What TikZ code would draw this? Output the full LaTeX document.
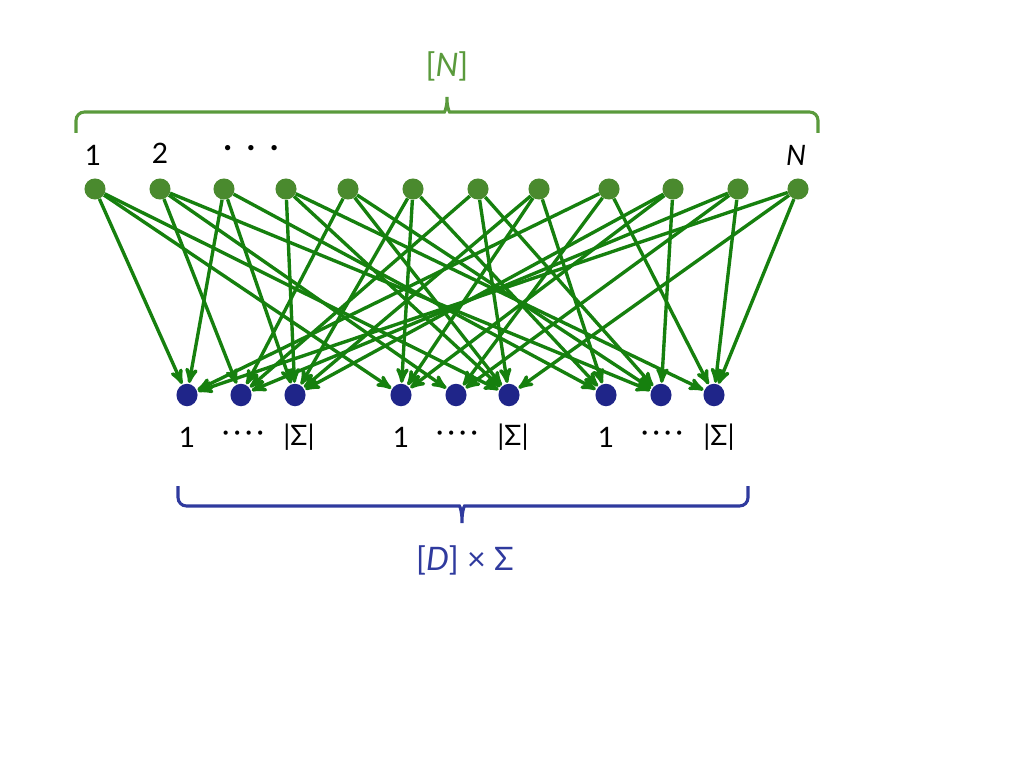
\documentclass[tikz,border=0pt]{standalone}
\usepackage{fontspec}
\setmainfont{Lato}
\usepackage{tikz}
\usetikzlibrary{arrows,shapes.geometric}
\definecolor{topgreen}{HTML}{4A8A2E}
\definecolor{edgegreen}{HTML}{16800E}
\definecolor{dotblue}{HTML}{1F2589}
\definecolor{bracegreen}{HTML}{5A9A3C}
\definecolor{braceblue}{HTML}{2F3A9E}

\begin{document}
\begin{tikzpicture}[x=0.025cm, y=-0.025cm,
		topdot/.style={circle, fill=topgreen, inner sep=0pt, minimum size=15pt},
		botdot/.style={ellipse, fill=dotblue, inner sep=0pt, minimum width=15pt, minimum height=16pt},
		edge/.style={draw, edgegreen, line width=2.4pt, -stealth', shorten >=0.5pt},
		lbl/.style={font=\fontsize{20}{24}\selectfont},
		setlbl/.style={font=\fontsize{23}{27}\selectfont}]

		\useasboundingbox (0,0) rectangle (1024,768);

		% top row
		\foreach \i/\x in {1/95,2/160,3/224,4/286,5/348,6/413,7/478,8/539,9/609,10/673,11/738,12/798}
			\node[topdot] (t\i) at (\x,189) {};
		% bottom row
		\foreach \j/\x in {1/187,2/241,3/295,4/401,5/456,6/509,7/606,8/661,9/714}
			\node[botdot] (b\j) at (\x,395) {};

		% edges
		\foreach \s/\t in {1/1,1/4,1/6, 2/2,2/5,2/8, 3/1,3/3,3/7, 4/3,4/6,4/9,
				5/2,5/6,5/8, 6/3,6/4,6/7, 7/6,7/8,7/2, 8/7,8/4,8/3,
				9/9,9/1,9/5, 10/8,10/3,10/4, 11/9,11/2,11/5, 12/9,12/1,12/6}
			\draw[edge] (t\s) -- (b\t);

		% labels
		\node[lbl] (n1) at (93,155) {1};
		\node[lbl] (n2) at (160,153) {2};
		\node[lbl] (ndots) at (251,151) {\textbf{·\hspace{11pt}·\hspace{11pt}·}};
		\node[lbl] (nN) at (796,155) {\itshape N};
		\foreach \g/\x in {a/187,b/401,c/606} {
			\node[lbl] (one\g) at (\x,437) {1};
			\node[lbl] (dots\g) at (\x+56,436) {·\hspace{3pt}·\hspace{3pt}·\hspace{3pt}·};
		}
		\node[lbl] (siga) at (299,437) {|Σ|};
		\node[lbl] (sigb) at (513,437) {|Σ|};
		\node[lbl] (sigc) at (719,437) {|Σ|};

		% braces
		\draw[bracegreen, line width=2.2pt, rounded corners=6pt]
			(76,133) -- (76,112) -- (436,112) .. controls (445,112) and (447,105) .. (447,92)
			.. controls (447,105) and (449,112) .. (458,112) -- (818,112) -- (818,133);
		\node[setlbl, text=bracegreen] (setN) at (447,66) {[\textit{N}]};
		\draw[braceblue, line width=2.2pt, rounded corners=6pt]
			(178,486) -- (178,506) -- (451,506) .. controls (460,506) and (462,513) .. (462,528)
			.. controls (462,513) and (464,506) .. (473,506) -- (748,506) -- (748,486);
		\node[setlbl, text=braceblue] (setD) at (465,560) {[\textit{D}] × Σ};
	\end{tikzpicture}
\end{document}
